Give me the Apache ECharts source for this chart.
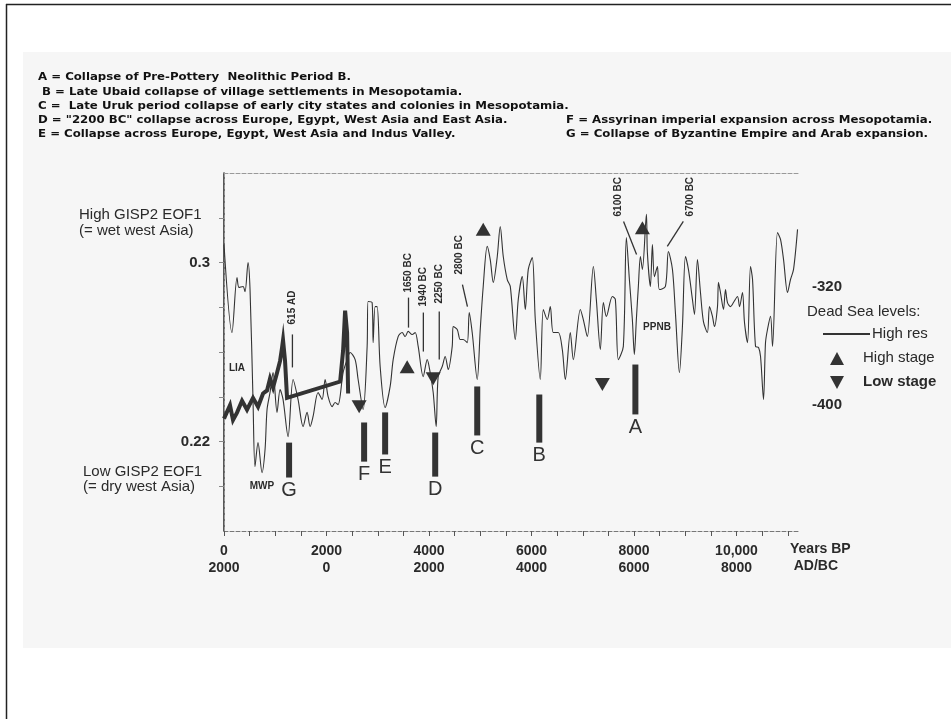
<!DOCTYPE html>
<html>
<head>
<meta charset="utf-8">
<style>
html, body { margin: 0; padding: 0; background: #fff; }
#chart { width: 951px; height: 719px; }
</style>
<script src="https://cdn.jsdelivr.net/npm/echarts@6/dist/echarts.min.js"></script>
</head>
<body>
<div id="chart"></div>
<script>
// GISP2 EOF1 (thin curve), years BP
var eofYears = [0,156,254,293,371,410,469,508,566,605,
  664,742,801,840,898,957,1035,1094,1152,1250,
  1348,1445,1543,1621,1680,1738,1836,1914,1973,2031,
  2109,2168,2226,2324,2402,2461,2559,2617,2715,2793,
  2812,2890,2910,2949,2988,3047,3144,3242,3301,3398,
  3476,3535,3594,3672,3730,3789,3887,3965,4023,4082,
  4140,4179,4258,4316,4375,4453,4472,4551,4609,4668,
  4746,4785,4843,4941,5000,5058,5136,5195,5254,5332,
  5390,5449,5527,5586,5683,5742,5820,5879,5937,6015,
  6074,6171,6230,6308,6367,6425,6523,6601,6660,6757,
  6816,6953,7011,7089,7207,7265,7343,7402,7461,7578,
  7636,7695,7792,7851,7910,7968,8007,8046,8085,8125,
  8164,8242,8261,8320,8359,8398,8457,8496,8613,8671,
  8750,8808,8886,8945,9004,9062,9140,9180,9238,9297,
  9355,9433,9473,9531,9570,9629,9648,9687,9746,9785,
  9824,9883,9941,10020,10059,10117,10156,10215,10273,10313,
  10371,10430,10469,10527,10566,10605,10664,10703,10800,10859,
  10918,10996,11054,11113,11191];
var eofValues = [0.308,0.2687,0.2933,0.2888,0.2893,0.2870,0.300,0.2879,0.2388,0.2088,
  0.2195,0.2061,0.2164,0.2343,0.2419,0.2508,0.2330,0.2432,0.2388,0.2222,
  0.2477,0.2388,0.2267,0.2330,0.2267,0.2312,0.2419,0.2388,0.2477,0.2401,
  0.2356,0.2374,0.2365,0.2508,0.2566,0.2598,0.2566,0.2477,0.2343,0.2625,
  0.2826,0.2821,0.2642,0.2803,0.2803,0.2535,0.2352,0.2446,0.2566,0.2669,
  0.2687,0.2669,0.2692,0.2678,0.2687,0.2625,0.2490,0.2566,0.2508,0.2419,
  0.2267,0.2490,0.2535,0.2580,0.2522,0.2625,0.2714,0.2701,0.2656,0.2656,
  0.2642,0.2776,0.2687,0.2477,0.2701,0.2893,0.3072,0.3013,0.2911,0.3027,
  0.3161,0.3027,0.2924,0.2893,0.2656,0.2835,0.2937,0.2790,0.2969,0.3022,
  0.2745,0.2477,0.2790,0.2745,0.2803,0.2687,0.2687,0.2611,0.2477,0.2687,
  0.2566,0.2790,0.2745,0.2669,0.2982,0.2835,0.2611,0.2821,0.2759,0.2848,
  0.2835,0.2566,0.2625,0.3112,0.2924,0.2745,0.2589,0.2745,0.2893,0.3027,
  0.2969,0.3215,0.3045,0.2893,0.3080,0.2937,0.2982,0.2879,0.2893,0.3049,
  0.2969,0.2776,0.2508,0.2714,0.3027,0.2969,0.2835,0.2768,0.3013,0.2866,
  0.2736,0.2687,0.2803,0.2759,0.2714,0.2803,0.2911,0.2866,0.2790,0.2879,
  0.2821,0.2803,0.2821,0.2848,0.2803,0.2866,0.2732,0.2642,0.2982,0.2924,
  0.2625,0.2620,0.2580,0.2388,0.2642,0.2701,0.2759,0.2625,0.3134,0.3103,
  0.3013,0.2866,0.2924,0.2969,0.3148];

// Dead Sea levels (m), high resolution record
var deadSeaYears = [0,117,176,254,352,449,566,664,762,840,898,957,1035,1094,1133,1152,1191,1230,2266,2324,2363,2402,2422];
var deadSeaLevels = [-409,-400,-410,-405,-397,-403,-395,-401,-392,-390,-382,-388,-378,-370,-361,-356,-370,-395,-384,-363,-336,-351,-392];
var highStageYears = [3574, 5058, 8164];
var highStageLevels = [-374, -281, -280];
var lowStageYears = [2637, 4082, 7383];
var lowStageLevels = [-401, -382, -386];

// collapse events (bars)
var eventNames = ['G', 'F', 'E', 'D', 'C', 'B', 'A'];
var eventYears = [1270, 2734, 3144, 4121, 4941, 6152, 8027];
var eventTops = [0.2195, 0.2285, 0.2330, 0.2240, 0.2446, 0.2410, 0.2544];
var eventBottoms = [0.2039, 0.2110, 0.2142, 0.2043, 0.2227, 0.2195, 0.2321];

// dated pointers on the curve
var dateLabels = ['615 AD', '1650 BC', '1940 BC', '2250 BC', '2800 BC', '6100 BC', '6700 BC'];
var dateYears = [1335, 3600, 3890, 4200, 4750, 8050, 8650];
var dateTips = [0.2531, 0.2709, 0.2602, 0.2566, 0.2803, 0.3036, 0.3072];

// axis labels
var bpTicks = [0, 2000, 4000, 6000, 8000, 10000];
var bpLabels = ['0', '2000', '4000', '6000', '8000', '10,000'];
var adbcLabels = ['2000', '0', '2000', '4000', '6000', '8000'];
var eofLabelValues = [0.22, 0.3];
var seaLabelValues = [-400, -320];

var notesLeft = [
    'A = Collapse of Pre-Pottery  Neolithic Period B.',
    'B = Late Ubaid collapse of village settlements in Mesopotamia.',
    'C =  Late Uruk period collapse of early city states and colonies in Mesopotamia.',
    'D = "2200 BC" collapse across Europe, Egypt, West Asia and East Asia.',
    'E = Collapse across Europe, Egypt, West Asia and Indus Valley.'
];
var notesRight = [
    'F = Assyrinan imperial expansion across Mesopotamia.',
    'G = Collapse of Byzantine Empire and Arab expansion.'
];

var myChart = echarts.init(document.getElementById('chart'));

// pixel offsets of pointer lines / texts from the tip [lineDx, lineDy, textDx, textDy]
var dateLayout = [[0, -33, 0, -43], [0, -30, 0, -35], [0, -39, 0, -45], [0, -48, 0, -56],
    [-5, -22, -8, -32], [-13, -33, -18, -38], [16, -25, 23, -30]];

var ink = '#2a2a2a';
var sans = '"Liberation Sans", Arial, sans-serif';

function zip(a, b) {
    return a.map(function (v, i) { return [v, b[i]]; });
}

var steps500 = [];
for (var t = 0; t <= 11000; t += 500) steps500.push(t);

// page background, frame
var graphics = [
    { type: 'rect', shape: { x: 23, y: 52, width: 928, height: 596 }, style: { fill: '#f6f6f6' }, z: -10 },
    { type: 'line', shape: { x1: 6, y1: 4.5, x2: 951, y2: 4.5 }, style: { stroke: '#222', lineWidth: 1.5 } },
    { type: 'line', shape: { x1: 6.5, y1: 4, x2: 6.5, y2: 719 }, style: { stroke: '#222', lineWidth: 1.5 } }
];
// header notes
var leftY = [77, 92, 106, 120, 134];
var leftX = [38, 42, 38, 38, 38];
var noteFont = 'bold 10.5px "DejaVu Sans"';
notesLeft.forEach(function (s, i) {
    graphics.push({ type: 'text', x: leftX[i], y: leftY[i], scaleX: 1.12,
        style: { text: s, font: noteFont, fill: '#111', verticalAlign: 'middle' } });
});
notesRight.forEach(function (s, i) {
    graphics.push({ type: 'text', x: 566, y: 120 + i * 14, scaleX: 1.12,
        style: { text: s, font: noteFont, fill: '#111', verticalAlign: 'middle' } });
});
// axis side captions
[['High GISP2 EOF1', 79, 215], ['(= wet west Asia)', 79, 231],
 ['Low GISP2 EOF1', 83, 472], ['(= dry west Asia)', 83, 487]].forEach(function (c) {
    graphics.push({ type: 'text', x: c[1], y: c[2],
        style: { text: c[0], font: '15px ' + sans, fill: ink, verticalAlign: 'middle' } });
});
graphics.push({ type: 'text', x: 790, y: 549, style: { text: 'Years BP', font: 'bold 14px ' + sans, fill: ink, verticalAlign: 'middle' } });
graphics.push({ type: 'text', x: 838, y: 566, style: { text: 'AD/BC', font: 'bold 14px ' + sans, fill: ink, align: 'right', verticalAlign: 'middle' } });
// curve notes
[['LIA', 237, 368], ['MWP', 262, 486], ['PPNB', 657, 327]].forEach(function (c) {
    graphics.push({ type: 'text', x: c[1], y: c[2],
        style: { text: c[0], font: 'bold 10px ' + sans, fill: ink, align: 'center', verticalAlign: 'middle' } });
});
// Dead Sea key
graphics.push({ type: 'text', x: 807, y: 312, style: { text: 'Dead Sea levels:', font: '15px ' + sans, fill: ink, verticalAlign: 'middle' } });
graphics.push({ type: 'line', shape: { x1: 823, y1: 334, x2: 870, y2: 334 }, style: { stroke: '#333', lineWidth: 2 } });
graphics.push({ type: 'text', x: 872, y: 334, style: { text: 'High res', font: '15px ' + sans, fill: ink, verticalAlign: 'middle' } });
graphics.push({ type: 'polygon', shape: { points: [[830, 365], [844, 365], [837, 352]] }, style: { fill: '#333' } });
graphics.push({ type: 'text', x: 863, y: 358, style: { text: 'High stage', font: '15px ' + sans, fill: ink, verticalAlign: 'middle' } });
graphics.push({ type: 'polygon', shape: { points: [[830, 376], [844, 376], [837, 389]] }, style: { fill: '#333' } });
graphics.push({ type: 'text', x: 863, y: 382, style: { text: 'Low stage', font: 'bold 15px ' + sans, fill: ink, verticalAlign: 'middle' } });

var option = {
    backgroundColor: '#fff',
    animation: false,
    grid: { left: 224, top: 173, width: 574, height: 358, containLabel: false },
    xAxis: [{
        type: 'value', min: 0, max: 11200, position: 'bottom',
        axisLine: { lineStyle: { color: '#777', type: 'dashed', width: 1 } },
        axisTick: { customValues: steps500, length: 5, lineStyle: { color: '#555' } },
        splitLine: { show: false },
        axisLabel: {
            customValues: bpTicks, margin: 12, lineHeight: 17,
            color: ink, fontFamily: sans, fontWeight: 'bold', fontSize: 14,
            formatter: function (v) {
                var i = bpTicks.indexOf(v);
                return bpLabels[i] + '\n' + adbcLabels[i];
            }
        }
    }, {
        type: 'value', min: 0, max: 11200, position: 'top',
        axisLine: { lineStyle: { color: '#999', type: 'dashed' } },
        axisTick: { show: false }, axisLabel: { show: false }, splitLine: { show: false }
    }],
    yAxis: [{
        type: 'value', min: 0.18, max: 0.34, interval: 0.02, position: 'left',
        axisLine: { lineStyle: { color: '#222', width: 1.5 } },
        axisTick: { customValues: [0.2, 0.22, 0.24, 0.26, 0.28, 0.3, 0.32], length: 5, lineStyle: { color: '#888' } },
        splitLine: { show: false },
        axisLabel: {
            customValues: eofLabelValues, margin: 14,
            color: ink, fontFamily: sans, fontWeight: 'bold', fontSize: 15,
            formatter: function (v) { return String(+v.toFixed(2)); }
        }
    }, {
        type: 'value', min: -485, max: -243, position: 'right',
        axisLine: { show: true, lineStyle: { color: '#999', type: 'dashed' } },
        axisTick: { show: false }, splitLine: { show: false },
        axisLabel: {
            customValues: seaLabelValues, margin: 14,
            color: ink, fontFamily: sans, fontWeight: 'bold', fontSize: 15
        }
    }],
    series: [{
        name: 'GISP2 EOF1', type: 'line', smooth: 0.3, showSymbol: false,
        data: zip(eofYears, eofValues),
        lineStyle: { color: '#333', width: 1.1 }, z: 3
    }, {
        name: 'High res', type: 'line', yAxisIndex: 1, showSymbol: false,
        data: zip(deadSeaYears, deadSeaLevels),
        lineStyle: { color: '#333', width: 4, join: 'miter' }, z: 2
    }, {
        name: 'High stage', type: 'scatter', yAxisIndex: 1, symbol: 'triangle', symbolSize: [15, 13],
        data: zip(highStageYears, highStageLevels), itemStyle: { color: '#333', opacity: 1 }
    }, {
        name: 'Low stage', type: 'scatter', yAxisIndex: 1, symbol: 'triangle', symbolRotate: 180, symbolSize: [15, 13],
        data: zip(lowStageYears, lowStageLevels), itemStyle: { color: '#333', opacity: 1 }
    }, {
        name: 'Events', type: 'custom',
        data: eventYears.map(function (y, i) { return [y, eventTops[i], eventBottoms[i]]; }),
        renderItem: function (params, api) {
            var top = api.coord([api.value(0), api.value(1)]);
            var bot = api.coord([api.value(0), api.value(2)]);
            return {
                type: 'group',
                children: [{
                    type: 'rect',
                    shape: { x: top[0] - 3, y: top[1], width: 6, height: bot[1] - top[1] },
                    style: { fill: '#333' }
                }, {
                    type: 'text', x: bot[0], y: bot[1] + 3,
                    style: { text: eventNames[params.dataIndex], font: '20px ' + sans, fill: '#333', align: 'center', verticalAlign: 'top' }
                }]
            };
        }
    }, {
        name: 'Dates', type: 'custom',
        data: dateYears.map(function (y, i) { return [y, dateTips[i]]; }),
        renderItem: function (params, api) {
            var p = api.coord([api.value(0), api.value(1)]);
            var l = dateLayout[params.dataIndex];
            return {
                type: 'group',
                children: [{
                    type: 'line',
                    shape: { x1: p[0], y1: p[1], x2: p[0] + l[0], y2: p[1] + l[1] },
                    style: { stroke: '#333', lineWidth: 1.3 }
                }, {
                    type: 'text', x: p[0] + l[2], y: p[1] + l[3], rotation: Math.PI / 2,
                    style: { text: dateLabels[params.dataIndex], font: 'bold 10px ' + sans, fill: ink, align: 'left', verticalAlign: 'middle' }
                }]
            };
        }
    }],
    graphic: graphics
};

myChart.setOption(option);
</script>
</body>
</html>
